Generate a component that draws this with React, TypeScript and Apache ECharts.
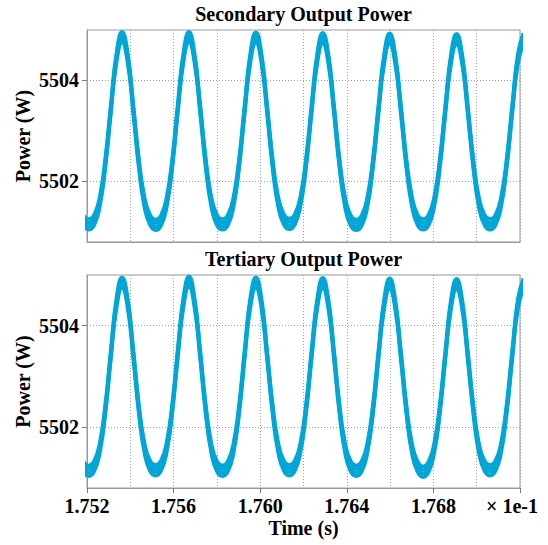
import React, { useEffect, useRef } from "react";
import * as echarts from "echarts";

// Sample times (axis units, × 1e-1 s)
const sampleTimes = [
  1.751818, 1.752075, 1.752333, 1.75259, 1.752848, 1.753105, 1.753363, 1.75362, 1.753878, 1.754135, 1.754393, 1.75465,
  1.754908, 1.755165, 1.755423, 1.75568, 1.755938, 1.756195, 1.756453, 1.75671, 1.756968, 1.757225, 1.757483, 1.75774,
  1.757998, 1.758255, 1.758513, 1.75877, 1.759028, 1.759285, 1.759543, 1.7598, 1.760058, 1.760315, 1.760573, 1.76083,
  1.761088, 1.761345, 1.761603, 1.76186, 1.762118, 1.762375, 1.762633, 1.76289, 1.763148, 1.763405, 1.763663, 1.76392,
  1.764178, 1.764435, 1.764693, 1.76495, 1.765208, 1.765465, 1.765723, 1.76598, 1.766238, 1.766495, 1.766753, 1.76701,
  1.767268, 1.767525, 1.767783, 1.76804, 1.768298, 1.768555, 1.768813, 1.76907, 1.769328, 1.769585, 1.769843, 1.7701,
  1.770358, 1.770615, 1.770873, 1.77113, 1.771388, 1.771645, 1.771903, 1.77216,
];

// Secondary output power (W), centre of the ripple band
const secondaryPower = [
  5501.24, 5501.15, 5501.24, 5501.6, 5502.37, 5503.45, 5504.45, 5504.86, 5504.45, 5503.45, 5502.37, 5501.6,
  5501.24, 5501.14, 5501.23, 5501.59, 5502.36, 5503.45, 5504.45, 5504.86, 5504.44, 5503.45, 5502.37, 5501.6,
  5501.24, 5501.15, 5501.24, 5501.6, 5502.37, 5503.44, 5504.44, 5504.85, 5504.44, 5503.45, 5502.36, 5501.6,
  5501.25, 5501.16, 5501.25, 5501.61, 5502.37, 5503.44, 5504.43, 5504.84, 5504.43, 5503.44, 5502.36, 5501.59,
  5501.23, 5501.14, 5501.23, 5501.59, 5502.36, 5503.43, 5504.42, 5504.83, 5504.42, 5503.44, 5502.36, 5501.6,
  5501.24, 5501.15, 5501.24, 5501.6, 5502.36, 5503.43, 5504.42, 5504.82, 5504.42, 5503.43, 5502.36, 5501.59,
  5501.24, 5501.15, 5501.24, 5501.6, 5502.37, 5503.44, 5504.43, 5504.83,
];

// Tertiary output power (W), centre of the ripple band
const tertiaryPower = [
  5501.23, 5501.14, 5501.23, 5501.59, 5502.36, 5503.45, 5504.45, 5504.85, 5504.45, 5503.46, 5502.37, 5501.6,
  5501.24, 5501.15, 5501.24, 5501.6, 5502.37, 5503.46, 5504.46, 5504.87, 5504.45, 5503.45, 5502.36, 5501.59,
  5501.23, 5501.14, 5501.23, 5501.59, 5502.36, 5503.45, 5504.45, 5504.85, 5504.44, 5503.44, 5502.36, 5501.6,
  5501.24, 5501.15, 5501.24, 5501.6, 5502.36, 5503.44, 5504.43, 5504.84, 5504.43, 5503.44, 5502.36, 5501.59,
  5501.23, 5501.14, 5501.23, 5501.59, 5502.35, 5503.43, 5504.42, 5504.83, 5504.42, 5503.43, 5502.35, 5501.58,
  5501.22, 5501.12, 5501.22, 5501.59, 5502.36, 5503.43, 5504.42, 5504.82, 5504.42, 5503.43, 5502.36, 5501.59,
  5501.24, 5501.15, 5501.24, 5501.6, 5502.37, 5503.44, 5504.43, 5504.83,
];

// Offsets (W) of the traces spanning the high-frequency ripple band
const secondaryRippleOffsets = [-0.105, -0.035, 0.035, 0.105];
const tertiaryRippleOffsets = [-0.105, -0.035, 0.035, 0.105];

const panelTitles = ["Secondary Output Power", "Tertiary Output Power"];
const yTickValues = [5502, 5504];
const yName = "Power (W)";
const xName = "Time (s)";
const xScaleNote = "× 1e-1";

const FONT = "'Liberation Serif', 'Times New Roman', serif";
const BLUE = "#00a6d6";
const GRID_GREY = "#a0a0a0";
const BORDER_GREY = "#999999";

function bandSeries(values: number[], offsets: number[], idx: number) {
  return offsets.map((off) => ({
    type: "line",
    xAxisIndex: idx,
    yAxisIndex: idx,
    data: sampleTimes.map((t, i) => [t, values[i] + off]),
    smooth: true,
    symbol: "none",
    lineStyle: { color: BLUE, width: 3.6 },
    z: 3,
  }));
}

const dotted = { type: [1, 2] as any, color: GRID_GREY, width: 1 };

function xAxisCfg(idx: number, bottom: boolean) {
  return {
    type: "value",
    gridIndex: idx,
    min: 1.752,
    max: 1.772,
    interval: 0.004,
    axisLine: { show: true, lineStyle: { color: BORDER_GREY } },
    axisTick: { show: bottom, length: 5, lineStyle: { color: "#777" } },
    minorTick: { show: false, splitNumber: 2 },
    splitLine: { show: true, lineStyle: dotted },
    minorSplitLine: { show: true, lineStyle: dotted },
    axisLabel: {
      show: bottom,
      margin: 8,
      fontSize: 20,
      fontWeight: "bold",
      fontFamily: FONT,
      color: "#000",
      formatter: (v: number) => (v > 1.7715 ? "" : v.toFixed(3)),
    },
    name: bottom ? xName : "",
    nameLocation: "middle",
    nameGap: 30,
    nameMoveOverlap: false,
    nameTextStyle: { fontSize: 20, fontWeight: "bold", fontFamily: FONT, color: "#000" },
  };
}

function yAxisCfg(idx: number) {
  return {
    type: "value",
    gridIndex: idx,
    min: 5500.8,
    max: 5505,
    axisLine: { show: true, lineStyle: { color: BORDER_GREY } },
    axisTick: { show: true, length: 5, customValues: yTickValues, lineStyle: { color: "#777" } },
    axisLabel: {
      customValues: yTickValues,
      margin: 8,
      fontSize: 20,
      fontWeight: "bold",
      fontFamily: FONT,
      color: "#000",
      formatter: (v: number) => String(Math.round(v)),
    },
    splitLine: { show: false },
    name: yName,
    nameLocation: "middle",
    nameGap: 54,
    nameRotate: 90,
    nameMoveOverlap: false,
    nameTextStyle: { fontSize: 20, fontWeight: "bold", fontFamily: FONT, color: "#000" },
  };
}

function gridLineSeries(idx: number) {
  return {
    type: "line",
    xAxisIndex: idx,
    yAxisIndex: idx,
    data: [],
    z: 1,
    silent: true,
    markLine: {
      silent: true,
      symbol: "none",
      label: { show: false },
      lineStyle: dotted,
      data: yTickValues.map((v) => ({ yAxis: v })),
      z: 1,
    },
  };
}

export default function App() {
  const ref = useRef<HTMLDivElement>(null);
  useEffect(() => {
    if (!ref.current) return;
    const chart = echarts.init(ref.current, undefined, { renderer: "svg" });
    const plotCenter = 87 + (548 - 87 - 28) / 2;
    chart.setOption({
      animation: false,
      backgroundColor: "#fff",
      title: [
        {
          text: panelTitles[0],
          left: plotCenter,
          textAlign: "center",
          top: 4,
          padding: 0,
          textStyle: { fontSize: 20, fontWeight: "bold", fontFamily: FONT, color: "#000" },
        },
        {
          text: panelTitles[1],
          left: plotCenter,
          textAlign: "center",
          top: 249,
          padding: 0,
          textStyle: { fontSize: 20, fontWeight: "bold", fontFamily: FONT, color: "#000" },
        },
      ],
      grid: [
        { left: 87, right: 28, top: 30, height: 212, show: true, borderColor: BORDER_GREY, borderWidth: 1, backgroundColor: "transparent" },
        { left: 87, right: 28, top: 275, height: 213, show: true, borderColor: BORDER_GREY, borderWidth: 1, backgroundColor: "transparent" },
      ],
      xAxis: [xAxisCfg(0, false), xAxisCfg(1, true)],
      yAxis: [yAxisCfg(0), yAxisCfg(1)],
      series: [
        gridLineSeries(0),
        gridLineSeries(1),
        ...bandSeries(secondaryPower, secondaryRippleOffsets, 0),
        ...bandSeries(tertiaryPower, tertiaryRippleOffsets, 1),
      ],
      graphic: [
        {
          type: "text",
          x: 538,
          y: 506,
          style: {
            text: xScaleNote,
            fontSize: 20,
            fontWeight: "bold",
            fontFamily: FONT,
            fill: "#000",
            align: "right",
            verticalAlign: "middle",
          },
        },
      ],
    });
    return () => chart.dispose();
  }, []);
  return (
    <div
      ref={ref}
      style={{ position: "fixed", left: 0, top: 0, width: 548, height: 545 }}
    />
  );
}
